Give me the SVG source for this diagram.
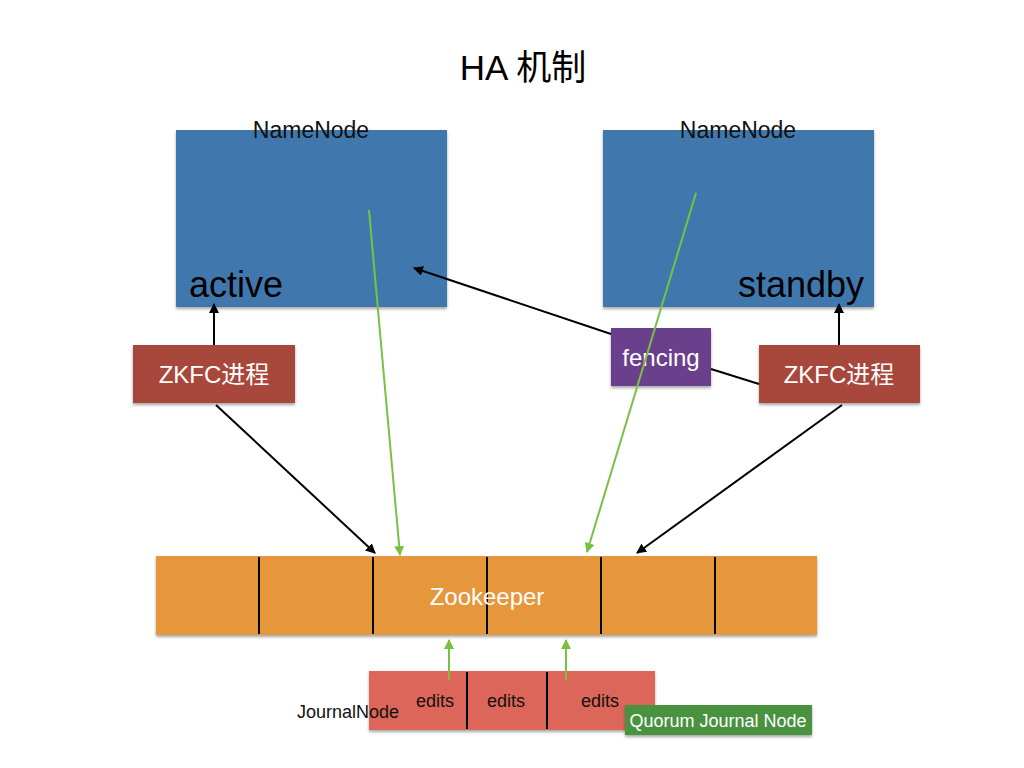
<svg xmlns="http://www.w3.org/2000/svg" width="1024" height="768" viewBox="0 0 1024 768">
<defs>
<filter id="sh" x="-10%" y="-10%" width="120%" height="130%">
<feDropShadow dx="0" dy="2" stdDeviation="1.5" flood-color="#000" flood-opacity="0.35"/>
</filter>
<marker id="ab" viewBox="0 0 10 10" refX="9" refY="5" markerWidth="5" markerHeight="5" orient="auto"><path d="M0,0 L10,5 L0,10 z" fill="#000"/></marker>
<marker id="ag" viewBox="0 0 10 10" refX="9" refY="5" markerWidth="5" markerHeight="5" orient="auto"><path d="M0,0 L10,5 L0,10 z" fill="#7ac143"/></marker>
<style>
text{font-family:"Helvetica Neue","Liberation Sans","Noto Sans CJK SC",sans-serif;}
.nn{fill:#4178ad;filter:url(#sh);}
.zk{fill:#a8473a;filter:url(#sh);}
.lbl{font-size:23px;fill:#111;text-anchor:middle;}
.big{font-size:36px;fill:#000;}
.w{fill:#fff;font-size:24px;text-anchor:middle;}
.blk{stroke:#000;stroke-width:2;fill:none;}
.grn{stroke:#7ac143;stroke-width:2;fill:none;}
.div{stroke:#000;stroke-width:2;}
</style>
</defs>
<rect width="1024" height="768" fill="#fff"/>
<text x="523" y="80" font-size="35" text-anchor="middle" fill="#000">HA 机制</text>

<g id="namenode-active">
<rect class="nn" x="176" y="130" width="271" height="177"/>
<text class="lbl" x="311" y="138">NameNode</text>
<text class="big" x="189" y="297">active</text>
</g>
<g id="namenode-standby">
<rect class="nn" x="603" y="130" width="271" height="177"/>
<text class="lbl" x="738" y="138">NameNode</text>
<text class="big" x="864" y="297" text-anchor="end">standby</text>
</g>
<g id="zkfc-left">
<rect class="zk" x="133" y="345" width="162" height="58"/>
<text class="w" x="214" y="383">ZKFC进程</text>
</g>
<g id="zkfc-right">
<rect class="zk" x="759" y="345" width="161" height="58"/>
<text class="w" x="839" y="383">ZKFC进程</text>
</g>
<g id="fencing">
<rect x="611" y="328" width="100" height="58" fill="#6a418d" filter="url(#sh)"/>
<text class="w" x="661" y="366">fencing</text>
</g>
<g id="zookeeper">
<rect x="156" y="556" width="661" height="79" fill="#e6963b" filter="url(#sh)"/>
<line class="div" x1="259" y1="557" x2="259" y2="634"/>
<line class="div" x1="373" y1="557" x2="373" y2="634"/>
<line class="div" x1="487" y1="557" x2="487" y2="634"/>
<line class="div" x1="601" y1="557" x2="601" y2="634"/>
<line class="div" x1="715" y1="557" x2="715" y2="634"/>
<text class="w" x="487" y="605">Zookeeper</text>
</g>
<g id="journalnode">
<rect x="369" y="671" width="286" height="59" fill="#dc665a" filter="url(#sh)"/>
<line class="div" x1="467" y1="672" x2="467" y2="729"/>
<line class="div" x1="547" y1="672" x2="547" y2="729"/>
<text x="435" y="707" font-size="18" text-anchor="middle" fill="#111">edits</text>
<text x="506" y="707" font-size="18" text-anchor="middle" fill="#111">edits</text>
<text x="600" y="707" font-size="18" text-anchor="middle" fill="#111">edits</text>
<text x="297" y="718" font-size="18" fill="#111">JournalNode</text>
</g>
<g id="quorum">
<rect x="625" y="705" width="187" height="30" fill="#4a9240" filter="url(#sh)"/>
<text x="718" y="727" font-size="18" text-anchor="middle" fill="#fff">Quorum Journal Node</text>
</g>

<g id="connectors">
<line class="blk" x1="214" y1="345" x2="214" y2="304" marker-end="url(#ab)"/>
<line class="blk" x1="839" y1="345" x2="839" y2="304" marker-end="url(#ab)"/>
<line class="blk" x1="216" y1="405" x2="375" y2="553" marker-end="url(#ab)"/>
<line class="blk" x1="842" y1="405" x2="637" y2="553" marker-end="url(#ab)"/>
<line class="blk" x1="759" y1="384" x2="711" y2="369"/>
<line class="blk" x1="611" y1="334" x2="414" y2="268" marker-end="url(#ab)"/>
<line class="grn" x1="369" y1="210" x2="400" y2="555" marker-end="url(#ag)"/>
<line class="grn" x1="696" y1="193" x2="587" y2="552" marker-end="url(#ag)"/>
<line class="grn" x1="449" y1="680" x2="449" y2="640" marker-end="url(#ag)"/>
<line class="grn" x1="566" y1="680" x2="566" y2="640" marker-end="url(#ag)"/>
</g>
</svg>
